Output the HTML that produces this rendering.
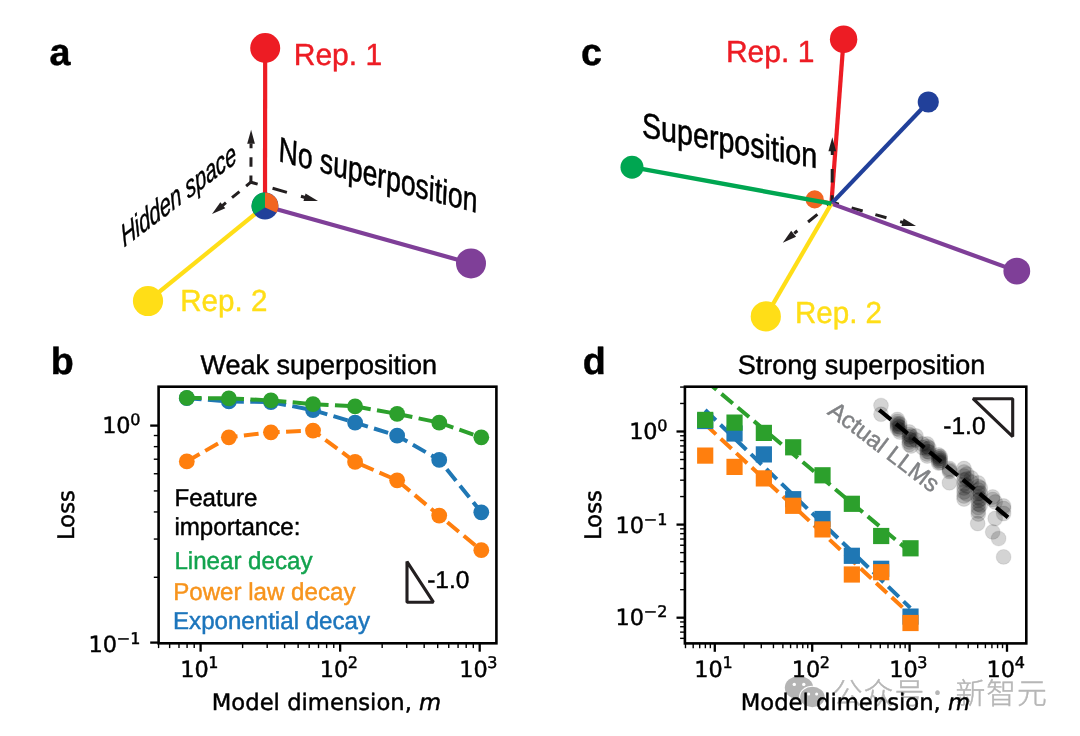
<!DOCTYPE html>
<html lang="en"><head><meta charset="utf-8"><title>Superposition and scaling</title>
<style>html,body{margin:0;padding:0;background:#fff}svg{display:block;will-change:transform}text{white-space:pre;text-rendering:geometricPrecision;stroke-width:0.45px;stroke-linejoin:round}</style>
</head><body>
<svg width="1080" height="736" viewBox="0 0 1080 736">
<rect width="1080" height="736" fill="#fff"/>
<text x="49.6" y="65.2" font-family='"Liberation Sans", Arial, Helvetica, sans-serif' font-size="37.7" fill="#000" stroke="#000" text-anchor="start" font-weight="700">a</text>
<path d="M250.9,182.2 L250.93,175.6 M250.96,166.8 L251,157.2 M251.03,148.3 L251.05,143.6" fill="none" stroke="#231F20" stroke-width="3"/>
<polygon points="251.1,129.7 254.9,143.71 247.2,143.69" fill="#231F20"/>
<path d="M250.9,182.2 L246.11,186.13 M239.46,191.58 L232.03,197.67 M225.92,202.68 L222.44,205.54" fill="none" stroke="#231F20" stroke-width="3"/>
<polygon points="212,214.1 220.38,202.25 225.27,208.2" fill="#231F20"/>
<path d="M250.9,182.2 L257.64,184.1 M272.56,188.3 L286.9,192.34 M300.95,196.3 L305.09,197.46" fill="none" stroke="#231F20" stroke-width="3"/>
<polygon points="318,201.1 303.48,201.01 305.57,193.6" fill="#231F20"/>
<line x1="265" y1="206" x2="265.2" y2="48" stroke="#ED1C24" stroke-width="4.2" />
<line x1="265" y1="206" x2="148" y2="301" stroke="#FFDE17" stroke-width="4.2" />
<line x1="265" y1="206" x2="471" y2="263.4" stroke="#7F3F98" stroke-width="4.2" />
<circle cx="265.2" cy="48" r="15" fill="#ED1C24" />
<circle cx="148" cy="301" r="15.1" fill="#FFDE17" />
<circle cx="471" cy="263.4" r="15" fill="#7F3F98" />
<circle cx="265" cy="206" r="13.4" fill="#21409A" />
<path d="M265,207.5 L265,192.6 A13.4,13.4 0 0 0 254.44,214.25 Z" fill="#00A651"/>
<path d="M265,207.5 L276.6,212.7 A13.4,13.4 0 0 0 265,192.6 Z" fill="#F26522"/>
<text transform="translate(293.7,65.3) scale(0.985,1)" font-family='"Liberation Sans", Arial, Helvetica, sans-serif' font-size="30.5" fill="#ED1C24" stroke="#ED1C24" text-anchor="start" >Rep. 1</text>
<text transform="translate(180.2,311.2) scale(0.97,1)" font-family='"Liberation Sans", Arial, Helvetica, sans-serif' font-size="30.5" fill="#FFDE17" stroke="#FFDE17" text-anchor="start" >Rep. 2</text>
<text transform="matrix(0.665,-0.501,0.2555,1.0465,123.9,247.5)" font-family='"Liberation Sans", Arial, Helvetica, sans-serif' font-style="italic" font-size="28" fill="#000" stroke="#000">Hidden space</text>
<text transform="matrix(0.945,0.247,-0.055,1.25,278.3,161)" font-family='"Liberation Sans", Arial, Helvetica, sans-serif' font-size="28" fill="#000" stroke="#000">No superposition</text>
<text x="581" y="65.2" font-family='"Liberation Sans", Arial, Helvetica, sans-serif' font-size="37.7" fill="#000" stroke="#000" text-anchor="start" font-weight="700">c</text>
<circle cx="814.7" cy="199.4" r="9.1" fill="#F26522" />
<line x1="831.4" y1="203.6" x2="814.7" y2="199.4" stroke="#F26522" stroke-width="4" />
<line x1="831.4" y1="203.6" x2="843.6" y2="39.3" stroke="#ED1C24" stroke-width="4.2" />
<path d="M832.1,202.3 L832.12,195.3 M832.16,182.6 L832.2,169.1 M832.25,154.9 L832.26,150.7" fill="none" stroke="#231F20" stroke-width="3"/>
<polygon points="832.3,137.2 836.11,151.21 828.41,151.19" fill="#231F20"/>
<path d="M832.1,202.3 L827.46,206.1 M817.4,214.34 L808.05,222.01 M797.37,230.76 L794.28,233.29" fill="none" stroke="#231F20" stroke-width="3"/>
<polygon points="782.8,242.7 791.19,230.85 796.07,236.8" fill="#231F20"/>
<path d="M832.1,202.3 L838.83,204.21 M851.63,207.84 L862.69,210.98 M875.39,214.58 L886.46,217.72 M900.12,221.59 L903.29,222.49" fill="none" stroke="#231F20" stroke-width="3"/>
<polygon points="916,226.1 901.48,225.98 903.58,218.58" fill="#231F20"/>
<line x1="831.4" y1="203.6" x2="928.3" y2="102" stroke="#21409A" stroke-width="4.2" />
<line x1="831.4" y1="203.6" x2="1016.8" y2="271.1" stroke="#7F3F98" stroke-width="4.2" />
<line x1="831.4" y1="203.6" x2="765.8" y2="316.4" stroke="#FFDE17" stroke-width="4.2" />
<line x1="831.4" y1="203.6" x2="632" y2="167.2" stroke="#00A651" stroke-width="4.4" />
<circle cx="843.6" cy="39.3" r="13.7" fill="#ED1C24" />
<circle cx="928.3" cy="102" r="10.6" fill="#21409A" />
<circle cx="632" cy="167.2" r="11.5" fill="#00A651" />
<circle cx="765.8" cy="316.4" r="15.1" fill="#FFDE17" />
<circle cx="1016.8" cy="271.1" r="13.4" fill="#7F3F98" />
<text transform="translate(725.9,61.8) scale(0.985,1)" font-family='"Liberation Sans", Arial, Helvetica, sans-serif' font-size="30.5" fill="#ED1C24" stroke="#ED1C24" text-anchor="start" >Rep. 1</text>
<text transform="translate(794.9,322.9) scale(0.97,1)" font-family='"Liberation Sans", Arial, Helvetica, sans-serif' font-size="30.5" fill="#FFDE17" stroke="#FFDE17" text-anchor="start" >Rep. 2</text>
<text transform="matrix(1.023,0.184,0,1.25,642,136.8)" font-family='"Liberation Sans", Arial, Helvetica, sans-serif' font-size="28" fill="#000" stroke="#000">Superposition</text>
<text x="50.7" y="374.2" font-family='"Liberation Sans", Arial, Helvetica, sans-serif' font-size="37.7" fill="#000" stroke="#000" text-anchor="start" font-weight="700">b</text>
<clipPath id="cb"><rect x="158.6" y="386.7" width="337.8" height="256.6"/></clipPath>
<g clip-path="url(#cb)">
<polyline points="186.8,398.2 228.87,401.4 270.94,402.1 313.01,410.1 355.08,422.6 397.15,435.7 439.22,459.9 481.29,512.3" fill="none" stroke="#1F77B4" stroke-width="4.0" stroke-dasharray="14.8 6.4" stroke-linejoin="round"/>
<circle cx="186.8" cy="398.2" r="7.9" fill="#1F77B4" />
<circle cx="228.87" cy="401.4" r="7.9" fill="#1F77B4" />
<circle cx="270.94" cy="402.1" r="7.9" fill="#1F77B4" />
<circle cx="313.01" cy="410.1" r="7.9" fill="#1F77B4" />
<circle cx="355.08" cy="422.6" r="7.9" fill="#1F77B4" />
<circle cx="397.15" cy="435.7" r="7.9" fill="#1F77B4" />
<circle cx="439.22" cy="459.9" r="7.9" fill="#1F77B4" />
<circle cx="481.29" cy="512.3" r="7.9" fill="#1F77B4" />
<polyline points="186.8,461.4 228.87,437.3 270.94,432.3 313.01,430.6 355.08,461.9 397.15,480.3 439.22,515.6 481.29,550.2" fill="none" stroke="#FF7F0E" stroke-width="4.0" stroke-dasharray="14.8 6.4" stroke-linejoin="round"/>
<circle cx="186.8" cy="461.4" r="7.9" fill="#FF7F0E" />
<circle cx="228.87" cy="437.3" r="7.9" fill="#FF7F0E" />
<circle cx="270.94" cy="432.3" r="7.9" fill="#FF7F0E" />
<circle cx="313.01" cy="430.6" r="7.9" fill="#FF7F0E" />
<circle cx="355.08" cy="461.9" r="7.9" fill="#FF7F0E" />
<circle cx="397.15" cy="480.3" r="7.9" fill="#FF7F0E" />
<circle cx="439.22" cy="515.6" r="7.9" fill="#FF7F0E" />
<circle cx="481.29" cy="550.2" r="7.9" fill="#FF7F0E" />
<polyline points="186.8,397.9 228.87,398.4 270.94,400.4 313.01,404.2 355.08,406.4 397.15,413.9 439.22,422.6 481.29,437.3" fill="none" stroke="#2CA02C" stroke-width="4.0" stroke-dasharray="14.8 6.4" stroke-linejoin="round"/>
<circle cx="186.8" cy="397.9" r="7.9" fill="#2CA02C" />
<circle cx="228.87" cy="398.4" r="7.9" fill="#2CA02C" />
<circle cx="270.94" cy="400.4" r="7.9" fill="#2CA02C" />
<circle cx="313.01" cy="404.2" r="7.9" fill="#2CA02C" />
<circle cx="355.08" cy="406.4" r="7.9" fill="#2CA02C" />
<circle cx="397.15" cy="413.9" r="7.9" fill="#2CA02C" />
<circle cx="439.22" cy="422.6" r="7.9" fill="#2CA02C" />
<circle cx="481.29" cy="437.3" r="7.9" fill="#2CA02C" />
</g>
<line x1="158.59" y1="643.3" x2="158.59" y2="648.1" stroke="#000" stroke-width="1.4" />
<line x1="169.64" y1="643.3" x2="169.64" y2="648.1" stroke="#000" stroke-width="1.4" />
<line x1="178.98" y1="643.3" x2="178.98" y2="648.1" stroke="#000" stroke-width="1.4" />
<line x1="187.08" y1="643.3" x2="187.08" y2="648.1" stroke="#000" stroke-width="1.4" />
<line x1="194.21" y1="643.3" x2="194.21" y2="648.1" stroke="#000" stroke-width="1.4" />
<line x1="242.61" y1="643.3" x2="242.61" y2="648.1" stroke="#000" stroke-width="1.4" />
<line x1="267.18" y1="643.3" x2="267.18" y2="648.1" stroke="#000" stroke-width="1.4" />
<line x1="284.62" y1="643.3" x2="284.62" y2="648.1" stroke="#000" stroke-width="1.4" />
<line x1="298.14" y1="643.3" x2="298.14" y2="648.1" stroke="#000" stroke-width="1.4" />
<line x1="309.19" y1="643.3" x2="309.19" y2="648.1" stroke="#000" stroke-width="1.4" />
<line x1="318.53" y1="643.3" x2="318.53" y2="648.1" stroke="#000" stroke-width="1.4" />
<line x1="326.63" y1="643.3" x2="326.63" y2="648.1" stroke="#000" stroke-width="1.4" />
<line x1="333.76" y1="643.3" x2="333.76" y2="648.1" stroke="#000" stroke-width="1.4" />
<line x1="382.16" y1="643.3" x2="382.16" y2="648.1" stroke="#000" stroke-width="1.4" />
<line x1="406.73" y1="643.3" x2="406.73" y2="648.1" stroke="#000" stroke-width="1.4" />
<line x1="424.17" y1="643.3" x2="424.17" y2="648.1" stroke="#000" stroke-width="1.4" />
<line x1="437.69" y1="643.3" x2="437.69" y2="648.1" stroke="#000" stroke-width="1.4" />
<line x1="448.74" y1="643.3" x2="448.74" y2="648.1" stroke="#000" stroke-width="1.4" />
<line x1="458.08" y1="643.3" x2="458.08" y2="648.1" stroke="#000" stroke-width="1.4" />
<line x1="466.18" y1="643.3" x2="466.18" y2="648.1" stroke="#000" stroke-width="1.4" />
<line x1="473.31" y1="643.3" x2="473.31" y2="648.1" stroke="#000" stroke-width="1.4" />
<line x1="200.6" y1="643.3" x2="200.6" y2="651.7" stroke="#000" stroke-width="2.3" />
<line x1="340.15" y1="643.3" x2="340.15" y2="651.7" stroke="#000" stroke-width="2.3" />
<line x1="479.7" y1="643.3" x2="479.7" y2="651.7" stroke="#000" stroke-width="2.3" />
<line x1="153.8" y1="577.28" x2="158.6" y2="577.28" stroke="#000" stroke-width="1.4" />
<line x1="153.8" y1="539.06" x2="158.6" y2="539.06" stroke="#000" stroke-width="1.4" />
<line x1="153.8" y1="511.95" x2="158.6" y2="511.95" stroke="#000" stroke-width="1.4" />
<line x1="153.8" y1="490.92" x2="158.6" y2="490.92" stroke="#000" stroke-width="1.4" />
<line x1="153.8" y1="473.74" x2="158.6" y2="473.74" stroke="#000" stroke-width="1.4" />
<line x1="153.8" y1="459.21" x2="158.6" y2="459.21" stroke="#000" stroke-width="1.4" />
<line x1="153.8" y1="446.63" x2="158.6" y2="446.63" stroke="#000" stroke-width="1.4" />
<line x1="153.8" y1="435.53" x2="158.6" y2="435.53" stroke="#000" stroke-width="1.4" />
<line x1="150.2" y1="425.6" x2="158.6" y2="425.6" stroke="#000" stroke-width="2.3" />
<line x1="150.2" y1="642.6" x2="158.6" y2="642.6" stroke="#000" stroke-width="2.3" />
<rect x="158.6" y="386.7" width="337.8" height="256.6" fill="none" stroke="#000" stroke-width="2.6"/>
<text x="180.17" y="676.8" font-family='"DejaVu Sans", "Liberation Sans", sans-serif' font-size="22.4" fill="#000" stroke="#000" text-anchor="start" >10</text>
<text x="208.26" y="668.2" font-family='"DejaVu Sans", "Liberation Sans", sans-serif' font-size="16" fill="#000" stroke="#000" text-anchor="start" >1</text>
<text x="319.72" y="676.8" font-family='"DejaVu Sans", "Liberation Sans", sans-serif' font-size="22.4" fill="#000" stroke="#000" text-anchor="start" >10</text>
<text x="347.81" y="668.2" font-family='"DejaVu Sans", "Liberation Sans", sans-serif' font-size="16" fill="#000" stroke="#000" text-anchor="start" >2</text>
<text x="459.27" y="676.8" font-family='"DejaVu Sans", "Liberation Sans", sans-serif' font-size="22.4" fill="#000" stroke="#000" text-anchor="start" >10</text>
<text x="487.36" y="668.2" font-family='"DejaVu Sans", "Liberation Sans", sans-serif' font-size="16" fill="#000" stroke="#000" text-anchor="start" >3</text>
<text x="102.13" y="433.1" font-family='"DejaVu Sans", "Liberation Sans", sans-serif' font-size="22.4" fill="#000" stroke="#000" text-anchor="start" >10</text>
<text x="130.22" y="424.5" font-family='"DejaVu Sans", "Liberation Sans", sans-serif' font-size="16" fill="#000" stroke="#000" text-anchor="start" >0</text>
<text x="88.42" y="652.2" font-family='"DejaVu Sans", "Liberation Sans", sans-serif' font-size="22.4" fill="#000" stroke="#000" text-anchor="start" >10</text>
<text x="116.82" y="643.6" font-family='"DejaVu Sans", "Liberation Sans", sans-serif' font-size="16" fill="#000" stroke="#000" text-anchor="start" >−1</text>
<text x="200.4" y="374.1" font-family='"Liberation Sans", Arial, Helvetica, sans-serif' font-size="27" fill="#000" stroke="#000" text-anchor="start" >Weak superposition</text>
<text transform="translate(174.4,505.7) scale(0.984,1)" font-family='"Liberation Sans", Arial, Helvetica, sans-serif' font-size="24.5" fill="#000" stroke="#000" text-anchor="start" >Feature</text>
<text transform="translate(174.4,535.3) scale(0.984,1)" font-family='"Liberation Sans", Arial, Helvetica, sans-serif' font-size="24.5" fill="#000" stroke="#000" text-anchor="start" >importance:</text>
<text transform="translate(174.4,568.9) scale(0.984,1)" font-family='"Liberation Sans", Arial, Helvetica, sans-serif' font-size="24.5" fill="#12A34E" stroke="#12A34E" text-anchor="start" >Linear decay</text>
<text transform="translate(173.2,599.5) scale(0.984,1)" font-family='"Liberation Sans", Arial, Helvetica, sans-serif' font-size="24.5" fill="#F7941D" stroke="#F7941D" text-anchor="start" >Power law decay</text>
<text transform="translate(173,628.5) scale(0.984,1)" font-family='"Liberation Sans", Arial, Helvetica, sans-serif' font-size="24.5" fill="#1C75BC" stroke="#1C75BC" text-anchor="start" >Exponential decay</text>
<path d="M407,561.6 L407,602.2 L433.4,602.2 Z" fill="none" stroke="#231F20" stroke-width="3.1" stroke-linejoin="bevel"/>
<text x="427.2" y="588.1" font-family='"Liberation Sans", Arial, Helvetica, sans-serif' font-size="24.5" fill="#000" stroke="#000" text-anchor="start" >-1.0</text>
<text x="326.5" y="710" font-family='"DejaVu Sans", "Liberation Sans", sans-serif' font-size="22.7" text-anchor="middle" fill="#000" stroke="#000">Model dimension, <tspan font-style="italic">m</tspan></text>
<text transform="translate(73.6,515) rotate(-90)" font-family='"DejaVu Sans", "Liberation Sans", sans-serif' font-size="22.7" text-anchor="middle" fill="#000" stroke="#000">Loss</text>
<text x="582.7" y="374.2" font-family='"Liberation Sans", Arial, Helvetica, sans-serif' font-size="37.7" fill="#000" stroke="#000" text-anchor="start" font-weight="700">d</text>
<g>
<ellipse cx="799" cy="687.8" rx="14.2" ry="11.6" fill="#B4B4B4"/>
<ellipse cx="812.4" cy="697" rx="13.3" ry="11.2" fill="#fff"/>
<ellipse cx="812.4" cy="697" rx="12.2" ry="10.2" fill="#B4B4B4"/>
<circle cx="794.3" cy="684.4" r="1.7" fill="#fff" />
<circle cx="803.8" cy="684.4" r="1.7" fill="#fff" />
<circle cx="808.7" cy="694.1" r="1.5" fill="#fff" />
<circle cx="816.6" cy="694.1" r="1.5" fill="#fff" />
<text x="832.8" y="704.0" font-family='"Liberation Sans", "Noto Sans CJK SC", "WenQuanYi Zen Hei", sans-serif' font-size="29.8" font-weight="300" letter-spacing="1.0" fill="#B6B6B6" stroke="#B6B6B6" stroke-width="0.8">公众号</text>
<text x="937.4" y="701.4" font-family='"Noto Sans CJK SC", "Liberation Sans", sans-serif' font-size="22" font-weight="400" text-anchor="middle" fill="#B6B6B6" stroke="none">·</text>
<text x="955.4" y="704.0" font-family='"Liberation Sans", "Noto Sans CJK SC", "WenQuanYi Zen Hei", sans-serif' font-size="29.8" font-weight="300" letter-spacing="1.0" fill="#B6B6B6" stroke="#B6B6B6" stroke-width="0.8">新智元</text>
</g>
<clipPath id="cd"><rect x="684.9" y="386.7" width="341.4" height="256.7"/></clipPath>
<g clip-path="url(#cd)">
<line x1="705.2" y1="410" x2="910.3" y2="607.9" stroke="#1F77B4" stroke-width="4.0" stroke-dasharray="14.8 6.4"/>
<line x1="705.2" y1="424.3" x2="910.3" y2="614.6" stroke="#FF7F0E" stroke-width="4.0" stroke-dasharray="14.8 6.4"/>
<line x1="705.2" y1="380.3" x2="910.3" y2="552" stroke="#2CA02C" stroke-width="4.0" stroke-dasharray="14.8 6.4"/>
<rect x="697.1" y="412.9" width="16.2" height="16.2" fill="#1F77B4"/>
<rect x="726.43" y="425.4" width="16.2" height="16.2" fill="#1F77B4"/>
<rect x="755.76" y="446.3" width="16.2" height="16.2" fill="#1F77B4"/>
<rect x="785.09" y="491.1" width="16.2" height="16.2" fill="#1F77B4"/>
<rect x="814.42" y="510.9" width="16.2" height="16.2" fill="#1F77B4"/>
<rect x="843.75" y="547.7" width="16.2" height="16.2" fill="#1F77B4"/>
<rect x="873.08" y="560.7" width="16.2" height="16.2" fill="#1F77B4"/>
<rect x="902.41" y="608.5" width="16.2" height="16.2" fill="#1F77B4"/>
<rect x="697.1" y="447.5" width="16.2" height="16.2" fill="#FF7F0E"/>
<rect x="726.43" y="458.8" width="16.2" height="16.2" fill="#FF7F0E"/>
<rect x="755.76" y="470.3" width="16.2" height="16.2" fill="#FF7F0E"/>
<rect x="785.09" y="497.7" width="16.2" height="16.2" fill="#FF7F0E"/>
<rect x="814.42" y="521.3" width="16.2" height="16.2" fill="#FF7F0E"/>
<rect x="843.75" y="566.4" width="16.2" height="16.2" fill="#FF7F0E"/>
<rect x="873.08" y="564.1" width="16.2" height="16.2" fill="#FF7F0E"/>
<rect x="902.41" y="614.9" width="16.2" height="16.2" fill="#FF7F0E"/>
<rect x="697.1" y="411.8" width="16.2" height="16.2" fill="#2CA02C"/>
<rect x="726.43" y="414.5" width="16.2" height="16.2" fill="#2CA02C"/>
<rect x="755.76" y="424.8" width="16.2" height="16.2" fill="#2CA02C"/>
<rect x="785.09" y="439.2" width="16.2" height="16.2" fill="#2CA02C"/>
<rect x="814.42" y="467.2" width="16.2" height="16.2" fill="#2CA02C"/>
<rect x="843.75" y="495.7" width="16.2" height="16.2" fill="#2CA02C"/>
<rect x="873.08" y="527.9" width="16.2" height="16.2" fill="#2CA02C"/>
<rect x="902.41" y="540.2" width="16.2" height="16.2" fill="#2CA02C"/>
<circle cx="881" cy="405.6" r="7.4" fill="#000" fill-opacity="0.17" stroke="#000" stroke-opacity="0.07" stroke-width="1.2"/>
<circle cx="881" cy="414.2" r="7.4" fill="#000" fill-opacity="0.17" stroke="#000" stroke-opacity="0.07" stroke-width="1.2"/>
<circle cx="897.4" cy="419.5" r="7.4" fill="#000" fill-opacity="0.17" stroke="#000" stroke-opacity="0.07" stroke-width="1.2"/>
<circle cx="897.4" cy="421.5" r="7.4" fill="#000" fill-opacity="0.17" stroke="#000" stroke-opacity="0.07" stroke-width="1.2"/>
<circle cx="897.4" cy="423.5" r="7.4" fill="#000" fill-opacity="0.17" stroke="#000" stroke-opacity="0.07" stroke-width="1.2"/>
<circle cx="897.4" cy="425" r="7.4" fill="#000" fill-opacity="0.17" stroke="#000" stroke-opacity="0.07" stroke-width="1.2"/>
<circle cx="897.4" cy="426.5" r="7.4" fill="#000" fill-opacity="0.17" stroke="#000" stroke-opacity="0.07" stroke-width="1.2"/>
<circle cx="897.4" cy="428.5" r="7.4" fill="#000" fill-opacity="0.17" stroke="#000" stroke-opacity="0.07" stroke-width="1.2"/>
<circle cx="899.8" cy="424" r="7.4" fill="#000" fill-opacity="0.17" stroke="#000" stroke-opacity="0.07" stroke-width="1.2"/>
<circle cx="899.8" cy="427" r="7.4" fill="#000" fill-opacity="0.17" stroke="#000" stroke-opacity="0.07" stroke-width="1.2"/>
<circle cx="899.8" cy="430" r="7.4" fill="#000" fill-opacity="0.17" stroke="#000" stroke-opacity="0.07" stroke-width="1.2"/>
<circle cx="899.8" cy="432" r="7.4" fill="#000" fill-opacity="0.17" stroke="#000" stroke-opacity="0.07" stroke-width="1.2"/>
<circle cx="909.2" cy="432" r="7.4" fill="#000" fill-opacity="0.17" stroke="#000" stroke-opacity="0.07" stroke-width="1.2"/>
<circle cx="909.2" cy="434.5" r="7.4" fill="#000" fill-opacity="0.17" stroke="#000" stroke-opacity="0.07" stroke-width="1.2"/>
<circle cx="909.2" cy="437" r="7.4" fill="#000" fill-opacity="0.17" stroke="#000" stroke-opacity="0.07" stroke-width="1.2"/>
<circle cx="909.2" cy="439.5" r="7.4" fill="#000" fill-opacity="0.17" stroke="#000" stroke-opacity="0.07" stroke-width="1.2"/>
<circle cx="909.2" cy="442" r="7.4" fill="#000" fill-opacity="0.17" stroke="#000" stroke-opacity="0.07" stroke-width="1.2"/>
<circle cx="909.2" cy="444.5" r="7.4" fill="#000" fill-opacity="0.17" stroke="#000" stroke-opacity="0.07" stroke-width="1.2"/>
<circle cx="911" cy="436" r="7.4" fill="#000" fill-opacity="0.17" stroke="#000" stroke-opacity="0.07" stroke-width="1.2"/>
<circle cx="911" cy="440" r="7.4" fill="#000" fill-opacity="0.17" stroke="#000" stroke-opacity="0.07" stroke-width="1.2"/>
<circle cx="911" cy="446" r="7.4" fill="#000" fill-opacity="0.17" stroke="#000" stroke-opacity="0.07" stroke-width="1.2"/>
<circle cx="916" cy="436" r="7.4" fill="#000" fill-opacity="0.17" stroke="#000" stroke-opacity="0.07" stroke-width="1.2"/>
<circle cx="916" cy="440" r="7.4" fill="#000" fill-opacity="0.17" stroke="#000" stroke-opacity="0.07" stroke-width="1.2"/>
<circle cx="922.5" cy="444" r="7.4" fill="#000" fill-opacity="0.17" stroke="#000" stroke-opacity="0.07" stroke-width="1.2"/>
<circle cx="922.5" cy="447.5" r="7.4" fill="#000" fill-opacity="0.17" stroke="#000" stroke-opacity="0.07" stroke-width="1.2"/>
<circle cx="927.2" cy="444" r="7.4" fill="#000" fill-opacity="0.17" stroke="#000" stroke-opacity="0.07" stroke-width="1.2"/>
<circle cx="927.2" cy="446.5" r="7.4" fill="#000" fill-opacity="0.17" stroke="#000" stroke-opacity="0.07" stroke-width="1.2"/>
<circle cx="927.2" cy="449" r="7.4" fill="#000" fill-opacity="0.17" stroke="#000" stroke-opacity="0.07" stroke-width="1.2"/>
<circle cx="927.2" cy="451.5" r="7.4" fill="#000" fill-opacity="0.17" stroke="#000" stroke-opacity="0.07" stroke-width="1.2"/>
<circle cx="927.2" cy="454" r="7.4" fill="#000" fill-opacity="0.17" stroke="#000" stroke-opacity="0.07" stroke-width="1.2"/>
<circle cx="927.2" cy="456" r="7.4" fill="#000" fill-opacity="0.17" stroke="#000" stroke-opacity="0.07" stroke-width="1.2"/>
<circle cx="929" cy="448" r="7.4" fill="#000" fill-opacity="0.17" stroke="#000" stroke-opacity="0.07" stroke-width="1.2"/>
<circle cx="929" cy="452" r="7.4" fill="#000" fill-opacity="0.17" stroke="#000" stroke-opacity="0.07" stroke-width="1.2"/>
<circle cx="938.6" cy="455" r="7.4" fill="#000" fill-opacity="0.17" stroke="#000" stroke-opacity="0.07" stroke-width="1.2"/>
<circle cx="938.6" cy="457" r="7.4" fill="#000" fill-opacity="0.17" stroke="#000" stroke-opacity="0.07" stroke-width="1.2"/>
<circle cx="938.6" cy="459" r="7.4" fill="#000" fill-opacity="0.17" stroke="#000" stroke-opacity="0.07" stroke-width="1.2"/>
<circle cx="938.6" cy="461" r="7.4" fill="#000" fill-opacity="0.17" stroke="#000" stroke-opacity="0.07" stroke-width="1.2"/>
<circle cx="938.6" cy="463" r="7.4" fill="#000" fill-opacity="0.17" stroke="#000" stroke-opacity="0.07" stroke-width="1.2"/>
<circle cx="940.2" cy="456.5" r="7.4" fill="#000" fill-opacity="0.17" stroke="#000" stroke-opacity="0.07" stroke-width="1.2"/>
<circle cx="940.2" cy="458.5" r="7.4" fill="#000" fill-opacity="0.17" stroke="#000" stroke-opacity="0.07" stroke-width="1.2"/>
<circle cx="940.2" cy="460.5" r="7.4" fill="#000" fill-opacity="0.17" stroke="#000" stroke-opacity="0.07" stroke-width="1.2"/>
<circle cx="940.2" cy="462.5" r="7.4" fill="#000" fill-opacity="0.17" stroke="#000" stroke-opacity="0.07" stroke-width="1.2"/>
<circle cx="949.4" cy="468.5" r="7.4" fill="#000" fill-opacity="0.17" stroke="#000" stroke-opacity="0.07" stroke-width="1.2"/>
<circle cx="949.4" cy="470" r="7.4" fill="#000" fill-opacity="0.17" stroke="#000" stroke-opacity="0.07" stroke-width="1.2"/>
<circle cx="949.4" cy="471.5" r="7.4" fill="#000" fill-opacity="0.17" stroke="#000" stroke-opacity="0.07" stroke-width="1.2"/>
<circle cx="949.4" cy="482.8" r="7.4" fill="#000" fill-opacity="0.17" stroke="#000" stroke-opacity="0.07" stroke-width="1.2"/>
<circle cx="964" cy="468.5" r="7.4" fill="#000" fill-opacity="0.17" stroke="#000" stroke-opacity="0.07" stroke-width="1.2"/>
<circle cx="964" cy="472" r="7.4" fill="#000" fill-opacity="0.17" stroke="#000" stroke-opacity="0.07" stroke-width="1.2"/>
<circle cx="964" cy="476" r="7.4" fill="#000" fill-opacity="0.17" stroke="#000" stroke-opacity="0.07" stroke-width="1.2"/>
<circle cx="964" cy="480" r="7.4" fill="#000" fill-opacity="0.17" stroke="#000" stroke-opacity="0.07" stroke-width="1.2"/>
<circle cx="964" cy="484" r="7.4" fill="#000" fill-opacity="0.17" stroke="#000" stroke-opacity="0.07" stroke-width="1.2"/>
<circle cx="964" cy="488" r="7.4" fill="#000" fill-opacity="0.17" stroke="#000" stroke-opacity="0.07" stroke-width="1.2"/>
<circle cx="964" cy="492" r="7.4" fill="#000" fill-opacity="0.17" stroke="#000" stroke-opacity="0.07" stroke-width="1.2"/>
<circle cx="964" cy="496" r="7.4" fill="#000" fill-opacity="0.17" stroke="#000" stroke-opacity="0.07" stroke-width="1.2"/>
<circle cx="964" cy="499" r="7.4" fill="#000" fill-opacity="0.17" stroke="#000" stroke-opacity="0.07" stroke-width="1.2"/>
<circle cx="966.8" cy="474" r="7.4" fill="#000" fill-opacity="0.17" stroke="#000" stroke-opacity="0.07" stroke-width="1.2"/>
<circle cx="966.8" cy="479" r="7.4" fill="#000" fill-opacity="0.17" stroke="#000" stroke-opacity="0.07" stroke-width="1.2"/>
<circle cx="966.8" cy="486" r="7.4" fill="#000" fill-opacity="0.17" stroke="#000" stroke-opacity="0.07" stroke-width="1.2"/>
<circle cx="966.8" cy="494" r="7.4" fill="#000" fill-opacity="0.17" stroke="#000" stroke-opacity="0.07" stroke-width="1.2"/>
<circle cx="971.5" cy="478" r="7.4" fill="#000" fill-opacity="0.17" stroke="#000" stroke-opacity="0.07" stroke-width="1.2"/>
<circle cx="971.5" cy="482" r="7.4" fill="#000" fill-opacity="0.17" stroke="#000" stroke-opacity="0.07" stroke-width="1.2"/>
<circle cx="978.3" cy="483" r="7.4" fill="#000" fill-opacity="0.17" stroke="#000" stroke-opacity="0.07" stroke-width="1.2"/>
<circle cx="978.3" cy="486.5" r="7.4" fill="#000" fill-opacity="0.17" stroke="#000" stroke-opacity="0.07" stroke-width="1.2"/>
<circle cx="978.3" cy="490" r="7.4" fill="#000" fill-opacity="0.17" stroke="#000" stroke-opacity="0.07" stroke-width="1.2"/>
<circle cx="978.3" cy="493.5" r="7.4" fill="#000" fill-opacity="0.17" stroke="#000" stroke-opacity="0.07" stroke-width="1.2"/>
<circle cx="978.3" cy="497" r="7.4" fill="#000" fill-opacity="0.17" stroke="#000" stroke-opacity="0.07" stroke-width="1.2"/>
<circle cx="978.3" cy="500.5" r="7.4" fill="#000" fill-opacity="0.17" stroke="#000" stroke-opacity="0.07" stroke-width="1.2"/>
<circle cx="978.3" cy="504" r="7.4" fill="#000" fill-opacity="0.17" stroke="#000" stroke-opacity="0.07" stroke-width="1.2"/>
<circle cx="978.3" cy="507.5" r="7.4" fill="#000" fill-opacity="0.17" stroke="#000" stroke-opacity="0.07" stroke-width="1.2"/>
<circle cx="978.3" cy="511" r="7.4" fill="#000" fill-opacity="0.17" stroke="#000" stroke-opacity="0.07" stroke-width="1.2"/>
<circle cx="978.3" cy="514" r="7.4" fill="#000" fill-opacity="0.17" stroke="#000" stroke-opacity="0.07" stroke-width="1.2"/>
<circle cx="980.3" cy="488" r="7.4" fill="#000" fill-opacity="0.17" stroke="#000" stroke-opacity="0.07" stroke-width="1.2"/>
<circle cx="980.3" cy="493" r="7.4" fill="#000" fill-opacity="0.17" stroke="#000" stroke-opacity="0.07" stroke-width="1.2"/>
<circle cx="980.3" cy="499" r="7.4" fill="#000" fill-opacity="0.17" stroke="#000" stroke-opacity="0.07" stroke-width="1.2"/>
<circle cx="980.3" cy="505" r="7.4" fill="#000" fill-opacity="0.17" stroke="#000" stroke-opacity="0.07" stroke-width="1.2"/>
<circle cx="977.7" cy="523.5" r="7.4" fill="#000" fill-opacity="0.17" stroke="#000" stroke-opacity="0.07" stroke-width="1.2"/>
<circle cx="992.7" cy="497" r="7.4" fill="#000" fill-opacity="0.17" stroke="#000" stroke-opacity="0.07" stroke-width="1.2"/>
<circle cx="992.7" cy="499.5" r="7.4" fill="#000" fill-opacity="0.17" stroke="#000" stroke-opacity="0.07" stroke-width="1.2"/>
<circle cx="992.7" cy="531.9" r="7.4" fill="#000" fill-opacity="0.17" stroke="#000" stroke-opacity="0.07" stroke-width="1.2"/>
<circle cx="995.2" cy="502" r="7.4" fill="#000" fill-opacity="0.17" stroke="#000" stroke-opacity="0.07" stroke-width="1.2"/>
<circle cx="995.2" cy="518.5" r="7.4" fill="#000" fill-opacity="0.17" stroke="#000" stroke-opacity="0.07" stroke-width="1.2"/>
<circle cx="998.6" cy="538.6" r="7.4" fill="#000" fill-opacity="0.17" stroke="#000" stroke-opacity="0.07" stroke-width="1.2"/>
<circle cx="1003.6" cy="506" r="7.4" fill="#000" fill-opacity="0.17" stroke="#000" stroke-opacity="0.07" stroke-width="1.2"/>
<circle cx="1003.6" cy="508.5" r="7.4" fill="#000" fill-opacity="0.17" stroke="#000" stroke-opacity="0.07" stroke-width="1.2"/>
<circle cx="1003.6" cy="513.5" r="7.4" fill="#000" fill-opacity="0.17" stroke="#000" stroke-opacity="0.07" stroke-width="1.2"/>
<circle cx="1003.6" cy="556.9" r="7.4" fill="#000" fill-opacity="0.17" stroke="#000" stroke-opacity="0.07" stroke-width="1.2"/>
<line x1="879.3" y1="410" x2="1008" y2="517.3" stroke="#000" stroke-width="4.2" stroke-dasharray="15.2 6.57"/>
</g>
<line x1="685.48" y1="643.4" x2="685.48" y2="648.2" stroke="#000" stroke-width="1.4" />
<line x1="693.19" y1="643.4" x2="693.19" y2="648.2" stroke="#000" stroke-width="1.4" />
<line x1="699.71" y1="643.4" x2="699.71" y2="648.2" stroke="#000" stroke-width="1.4" />
<line x1="705.36" y1="643.4" x2="705.36" y2="648.2" stroke="#000" stroke-width="1.4" />
<line x1="710.34" y1="643.4" x2="710.34" y2="648.2" stroke="#000" stroke-width="1.4" />
<line x1="744.12" y1="643.4" x2="744.12" y2="648.2" stroke="#000" stroke-width="1.4" />
<line x1="761.27" y1="643.4" x2="761.27" y2="648.2" stroke="#000" stroke-width="1.4" />
<line x1="773.44" y1="643.4" x2="773.44" y2="648.2" stroke="#000" stroke-width="1.4" />
<line x1="782.88" y1="643.4" x2="782.88" y2="648.2" stroke="#000" stroke-width="1.4" />
<line x1="790.59" y1="643.4" x2="790.59" y2="648.2" stroke="#000" stroke-width="1.4" />
<line x1="797.11" y1="643.4" x2="797.11" y2="648.2" stroke="#000" stroke-width="1.4" />
<line x1="802.76" y1="643.4" x2="802.76" y2="648.2" stroke="#000" stroke-width="1.4" />
<line x1="807.74" y1="643.4" x2="807.74" y2="648.2" stroke="#000" stroke-width="1.4" />
<line x1="841.52" y1="643.4" x2="841.52" y2="648.2" stroke="#000" stroke-width="1.4" />
<line x1="858.67" y1="643.4" x2="858.67" y2="648.2" stroke="#000" stroke-width="1.4" />
<line x1="870.84" y1="643.4" x2="870.84" y2="648.2" stroke="#000" stroke-width="1.4" />
<line x1="880.28" y1="643.4" x2="880.28" y2="648.2" stroke="#000" stroke-width="1.4" />
<line x1="887.99" y1="643.4" x2="887.99" y2="648.2" stroke="#000" stroke-width="1.4" />
<line x1="894.51" y1="643.4" x2="894.51" y2="648.2" stroke="#000" stroke-width="1.4" />
<line x1="900.16" y1="643.4" x2="900.16" y2="648.2" stroke="#000" stroke-width="1.4" />
<line x1="905.14" y1="643.4" x2="905.14" y2="648.2" stroke="#000" stroke-width="1.4" />
<line x1="938.92" y1="643.4" x2="938.92" y2="648.2" stroke="#000" stroke-width="1.4" />
<line x1="956.07" y1="643.4" x2="956.07" y2="648.2" stroke="#000" stroke-width="1.4" />
<line x1="968.24" y1="643.4" x2="968.24" y2="648.2" stroke="#000" stroke-width="1.4" />
<line x1="977.68" y1="643.4" x2="977.68" y2="648.2" stroke="#000" stroke-width="1.4" />
<line x1="985.39" y1="643.4" x2="985.39" y2="648.2" stroke="#000" stroke-width="1.4" />
<line x1="991.91" y1="643.4" x2="991.91" y2="648.2" stroke="#000" stroke-width="1.4" />
<line x1="997.56" y1="643.4" x2="997.56" y2="648.2" stroke="#000" stroke-width="1.4" />
<line x1="1002.54" y1="643.4" x2="1002.54" y2="648.2" stroke="#000" stroke-width="1.4" />
<line x1="714.8" y1="643.4" x2="714.8" y2="651.8" stroke="#000" stroke-width="2.3" />
<line x1="812.2" y1="643.4" x2="812.2" y2="651.8" stroke="#000" stroke-width="2.3" />
<line x1="909.6" y1="643.4" x2="909.6" y2="651.8" stroke="#000" stroke-width="2.3" />
<line x1="1007" y1="643.4" x2="1007" y2="651.8" stroke="#000" stroke-width="2.3" />
<line x1="680.1" y1="638.35" x2="684.9" y2="638.35" stroke="#000" stroke-width="1.4" />
<line x1="680.1" y1="632.12" x2="684.9" y2="632.12" stroke="#000" stroke-width="1.4" />
<line x1="680.1" y1="626.72" x2="684.9" y2="626.72" stroke="#000" stroke-width="1.4" />
<line x1="680.1" y1="621.96" x2="684.9" y2="621.96" stroke="#000" stroke-width="1.4" />
<line x1="680.1" y1="589.67" x2="684.9" y2="589.67" stroke="#000" stroke-width="1.4" />
<line x1="680.1" y1="573.28" x2="684.9" y2="573.28" stroke="#000" stroke-width="1.4" />
<line x1="680.1" y1="561.65" x2="684.9" y2="561.65" stroke="#000" stroke-width="1.4" />
<line x1="680.1" y1="552.63" x2="684.9" y2="552.63" stroke="#000" stroke-width="1.4" />
<line x1="680.1" y1="545.25" x2="684.9" y2="545.25" stroke="#000" stroke-width="1.4" />
<line x1="680.1" y1="539.02" x2="684.9" y2="539.02" stroke="#000" stroke-width="1.4" />
<line x1="680.1" y1="533.62" x2="684.9" y2="533.62" stroke="#000" stroke-width="1.4" />
<line x1="680.1" y1="528.86" x2="684.9" y2="528.86" stroke="#000" stroke-width="1.4" />
<line x1="680.1" y1="496.57" x2="684.9" y2="496.57" stroke="#000" stroke-width="1.4" />
<line x1="680.1" y1="480.18" x2="684.9" y2="480.18" stroke="#000" stroke-width="1.4" />
<line x1="680.1" y1="468.55" x2="684.9" y2="468.55" stroke="#000" stroke-width="1.4" />
<line x1="680.1" y1="459.53" x2="684.9" y2="459.53" stroke="#000" stroke-width="1.4" />
<line x1="680.1" y1="452.15" x2="684.9" y2="452.15" stroke="#000" stroke-width="1.4" />
<line x1="680.1" y1="445.92" x2="684.9" y2="445.92" stroke="#000" stroke-width="1.4" />
<line x1="680.1" y1="440.52" x2="684.9" y2="440.52" stroke="#000" stroke-width="1.4" />
<line x1="680.1" y1="435.76" x2="684.9" y2="435.76" stroke="#000" stroke-width="1.4" />
<line x1="680.1" y1="403.47" x2="684.9" y2="403.47" stroke="#000" stroke-width="1.4" />
<line x1="680.1" y1="387.08" x2="684.9" y2="387.08" stroke="#000" stroke-width="1.4" />
<line x1="676.5" y1="431.5" x2="684.9" y2="431.5" stroke="#000" stroke-width="2.3" />
<line x1="676.5" y1="524.6" x2="684.9" y2="524.6" stroke="#000" stroke-width="2.3" />
<line x1="676.5" y1="617.7" x2="684.9" y2="617.7" stroke="#000" stroke-width="2.3" />
<rect x="684.9" y="386.7" width="341.4" height="256.7" fill="none" stroke="#000" stroke-width="2.6"/>
<text x="694.37" y="676.8" font-family='"DejaVu Sans", "Liberation Sans", sans-serif' font-size="22.4" fill="#000" stroke="#000" text-anchor="start" >10</text>
<text x="722.46" y="668.2" font-family='"DejaVu Sans", "Liberation Sans", sans-serif' font-size="16" fill="#000" stroke="#000" text-anchor="start" >1</text>
<text x="791.77" y="676.8" font-family='"DejaVu Sans", "Liberation Sans", sans-serif' font-size="22.4" fill="#000" stroke="#000" text-anchor="start" >10</text>
<text x="819.86" y="668.2" font-family='"DejaVu Sans", "Liberation Sans", sans-serif' font-size="16" fill="#000" stroke="#000" text-anchor="start" >2</text>
<text x="889.17" y="676.8" font-family='"DejaVu Sans", "Liberation Sans", sans-serif' font-size="22.4" fill="#000" stroke="#000" text-anchor="start" >10</text>
<text x="917.26" y="668.2" font-family='"DejaVu Sans", "Liberation Sans", sans-serif' font-size="16" fill="#000" stroke="#000" text-anchor="start" >3</text>
<text x="986.57" y="676.8" font-family='"DejaVu Sans", "Liberation Sans", sans-serif' font-size="22.4" fill="#000" stroke="#000" text-anchor="start" >10</text>
<text x="1014.66" y="668.2" font-family='"DejaVu Sans", "Liberation Sans", sans-serif' font-size="16" fill="#000" stroke="#000" text-anchor="start" >4</text>
<text x="629.13" y="439.1" font-family='"DejaVu Sans", "Liberation Sans", sans-serif' font-size="22.4" fill="#000" stroke="#000" text-anchor="start" >10</text>
<text x="657.22" y="430.5" font-family='"DejaVu Sans", "Liberation Sans", sans-serif' font-size="16" fill="#000" stroke="#000" text-anchor="start" >0</text>
<text x="615.42" y="533.3" font-family='"DejaVu Sans", "Liberation Sans", sans-serif' font-size="22.4" fill="#000" stroke="#000" text-anchor="start" >10</text>
<text x="643.82" y="524.7" font-family='"DejaVu Sans", "Liberation Sans", sans-serif' font-size="16" fill="#000" stroke="#000" text-anchor="start" >−1</text>
<text x="615.42" y="625.4" font-family='"DejaVu Sans", "Liberation Sans", sans-serif' font-size="22.4" fill="#000" stroke="#000" text-anchor="start" >10</text>
<text x="643.82" y="616.8" font-family='"DejaVu Sans", "Liberation Sans", sans-serif' font-size="16" fill="#000" stroke="#000" text-anchor="start" >−2</text>
<text x="737.7" y="374.1" font-family='"Liberation Sans", Arial, Helvetica, sans-serif' font-size="27" fill="#000" stroke="#000" text-anchor="start" >Strong superposition</text>
<path d="M973,398.7 L1012.7,398.7 L1012.7,436.6 Z" fill="none" stroke="#231F20" stroke-width="3.1" stroke-linejoin="bevel"/>
<text x="943.3" y="434" font-family='"Liberation Sans", Arial, Helvetica, sans-serif' font-size="24.5" fill="#000" stroke="#000" text-anchor="start" >-1.0</text>
<text transform="translate(826.6,413.4) rotate(37.2)" font-family='"Liberation Sans", Arial, Helvetica, sans-serif' font-size="24" fill="#808285" stroke="#808285">Actual LLMs</text>
<text x="855.4" y="710.1" font-family='"DejaVu Sans", "Liberation Sans", sans-serif' font-size="22.7" text-anchor="middle" fill="#000" stroke="#000">Model dimension, <tspan font-style="italic">m</tspan></text>
<text transform="translate(601.4,515.05) rotate(-90)" font-family='"DejaVu Sans", "Liberation Sans", sans-serif' font-size="22.7" text-anchor="middle" fill="#000" stroke="#000">Loss</text>
</svg>
</body></html>
